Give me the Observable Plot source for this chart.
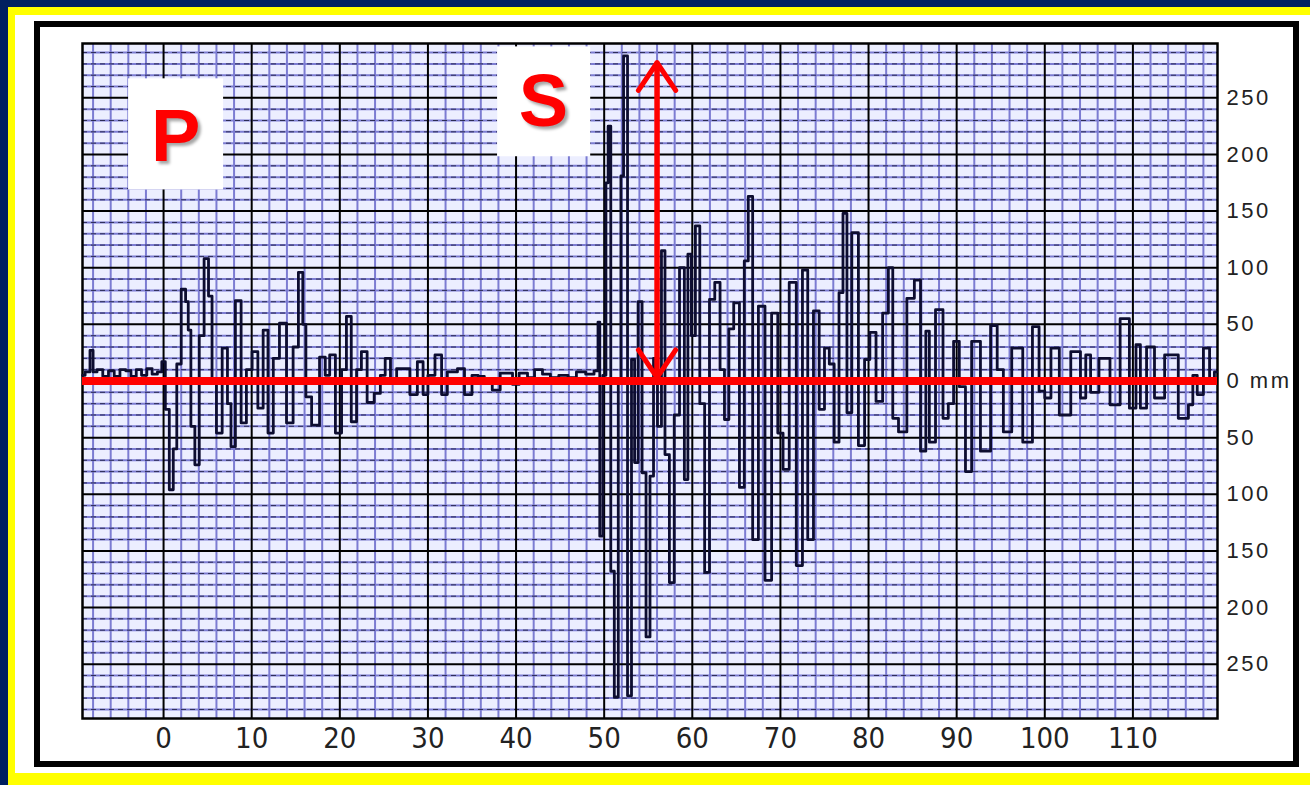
<!DOCTYPE html>
<html><head><meta charset="utf-8">
<script src="https://cdn.jsdelivr.net/npm/d3@7"></script>
<script src="https://cdn.jsdelivr.net/npm/@observablehq/plot@0.6"></script>
<style>
html,body{margin:0;padding:0;width:1310px;height:785px;overflow:hidden;background:#002060;}
#yellow{position:absolute;left:8px;top:7px;width:1302px;height:778px;background:#ffff00;}
#white{position:absolute;left:15px;top:15px;width:1295px;height:758px;background:#ffffff;}
#panel{position:absolute;left:34px;top:21px;width:1253px;height:734px;border:6px solid #000;background:#fff;}
#chart{position:absolute;left:0;top:0;}
</style></head><body>
<div id="yellow"></div><div id="white"></div><div id="panel"></div>
<div id="chart"></div>
<script>
// Seismogram trace: time (s) and amplitude (mm)
const times = [-9.2,-8.6,-8.1,-7.9,-7.2,-6.6,-5.9,-5.3,-4.6,-4.0,-3.4,-2.8,-2.2,-1.6,-1.0,-0.4,0.0,0.4,0.9,1.3,1.7,2.3,2.7,2.9,3.3,3.8,4.3,4.9,5.3,5.7,6.3,7.0,7.5,7.8,8.5,9.1,9.7,10.4,11.0,11.6,12.1,12.8,13.5,14.4,15.0,15.6,16.0,16.3,17.3,18.1,18.6,19.1,19.9,20.5,21.0,21.6,22.2,22.7,23.5,24.3,24.9,25.4,26.1,26.8,27.5,28.4,29.2,29.7,30.3,31.3,31.8,32.6,33.0,33.7,34.6,35.4,36.0,36.8,37.8,38.6,39.4,39.8,40.9,41.7,42.5,43.5,44.3,45.4,46.4,47.3,48.5,49.2,49.4,49.6,50.1,50.3,50.6,50.9,51.4,51.8,52.0,52.4,52.9,53.3,53.6,54.1,54.5,55.0,55.4,55.8,56.3,56.7,57.1,57.7,58.2,58.9,59.3,59.7,60.1,60.6,61.1,61.7,62.2,62.9,63.4,63.9,64.4,65.0,65.7,66.1,66.6,67.1,67.9,68.6,69.4,70.0,70.6,71.4,72.2,72.8,73.4,74.1,74.7,75.3,75.8,76.4,76.9,77.3,77.8,78.4,79.3,79.8,80.5,81.2,82.0,82.5,83.0,83.8,84.9,85.5,86.3,86.7,87.1,88.1,88.8,89.3,90.0,90.6,91.4,92.0,93.4,94.3,94.9,95.7,96.8,98.2,99.0,99.7,100.3,101.1,102.2,103.7,104.4,104.9,105.5,106.8,108.0,109.1,110.1,110.6,111.1,112.0,112.9,114.3,116.0,116.6,117.0,117.6,118.4,119.0,119.5];
const amps = [5,8,27,8,10,4,9,4,10,9,4,10,5,11,6,8,17,-25,-96,-60,15,81,70,45,-40,-74,40,108,75,0,-46,29,-20,-58,71,-37,10,26,-24,45,-46,20,51,-37,30,96,50,-14,-39,21,5,23,-46,10,57,-36,10,26,-19,-11,5,20,0,11,11,-12,17,-12,5,23,-12,8,8,11,-12,5,4,2,-8,7,7,-3,7,3,10,6,3,5,3,8,6,9,52,-137,5,175,225,-168,-279,0,181,287,-278,19,-72,70,-81,-226,-84,20,-40,115,-65,-178,-30,100,-87,112,40,137,-20,-169,72,87,10,-34,46,69,-94,106,163,-140,66,-176,60,-46,-78,87,-163,98,-140,62,-25,29,15,-54,78,148,-28,131,-57,19,43,-18,60,100,-33,-45,73,89,-62,44,-54,63,-33,-20,35,-5,-80,35,-62,49,10,-45,29,-54,48,-9,-15,29,-30,26,-15,23,-10,20,-21,55,-24,32,-24,30,-15,23,-33,-21,5,-12,29,0,8];

// Axis ticks
const xTicks = [0,10,20,30,40,50,60,70,80,90,100,110];
const yTicks = [-250,-200,-150,-100,-50,0,50,100,150,200,250];

// Phase labels (P and S) with their white boxes
const phaseNames = ["P","S"];
const phaseX = [1.36, 43.1];
const phaseY = [215, 246];
const boxX1 = [-3.97, 37.9];
const boxX2 = [6.81, 48.47];
const boxY1 = [168.7, 198];
const boxY2 = [266.8, 295];

// Amplitude arrow (S wave max)
const arrowT = [56.0];
const arrowLow = [3];
const arrowHigh = [281];

const trace = times.map((t, i) => ({t, a: amps[i]}));
const phases = phaseNames.map((n, i) => ({n, x: phaseX[i], y: phaseY[i], x1: boxX1[i], x2: boxX2[i], y1: boxY1[i], y2: boxY2[i]}));
const arrows = [
  {x: arrowT[0], y1: arrowLow[0], y2: arrowHigh[0]},
  {x: arrowT[0], y1: arrowHigh[0], y2: arrowLow[0]}
];

const minorX = d3.range(-8, 120, 2).filter(v => v % 10 !== 0);
const majorX = d3.range(0, 120, 10);
const minorY = d3.range(-290, 300, 10).filter(v => v % 50 !== 0);
const majorY = d3.range(-250, 300, 50);

const chart = Plot.plot({
  width: 1310, height: 785,
  marginLeft: 82, marginRight: 93, marginTop: 43, marginBottom: 67,
  x: {domain: [-9.2, 119.6], axis: null},
  y: {domain: [-298, 298], axis: null},
  style: {background: "transparent", overflow: "visible"},
  marks: [
    Plot.frame({fill: "#eceeff"}),
    Plot.ruleX(minorX, {stroke: "#7c7cd2", strokeWidth: 2}),
    Plot.ruleY(minorY, {stroke: "#7c7cd2", strokeWidth: 2}),
    Plot.ruleY(minorY, {stroke: "#2c2c55", strokeWidth: 1, strokeDasharray: "5,4"}),
    Plot.ruleX(majorX, {stroke: "#000", strokeWidth: 2}),
    Plot.ruleY(majorY, {stroke: "#000", strokeWidth: 2}),
    Plot.frame({stroke: "#000", strokeWidth: 2.5}),
    Plot.rect(phases, {x1: "x1", x2: "x2", y1: "y1", y2: "y2", fill: "#fff"}),
    Plot.line(trace, {x: "t", y: "a", curve: "step", stroke: "#0d0d30", strokeWidth: 2.8}),
    Plot.ruleY([0], {stroke: "#ff0000", strokeWidth: 8}),
    Plot.arrow(arrows, {x1: "x", x2: "x", y1: "y1", y2: "y2", stroke: "#ff0000", strokeWidth: 5, headLength: 10, headAngle: 68}),
    Plot.text(phases, {x: "x", y: "y", text: "n", fill: "#ff0000", fontSize: 74, fontWeight: "bold", fontFamily: "Liberation Sans, Arial, sans-serif"}),
    Plot.axisX(xTicks, {anchor: "bottom", tickSize: 0, tickPadding: 9, fontSize: 29, fill: "#222"}),
    Plot.axisY(yTicks, {anchor: "right", tickSize: 0, tickPadding: 9, fontSize: 22, fill: "#222",
      tickFormat: d => d === 0 ? "0 mm" : String(Math.abs(d))})
  ]
});
document.getElementById("chart").appendChild(chart);
d3.select(chart).selectAll('g[aria-label="text"]')
  .style("filter", "drop-shadow(3px 3px 1.5px rgba(0,0,0,0.35))");
d3.select(chart).selectAll('g[aria-label="x-axis tick label"]')
  .attr("font-family", "'Liberation Sans Narrow', 'DejaVu Sans Condensed', 'Liberation Sans', sans-serif");
d3.select(chart).selectAll('g[aria-label="y-axis tick label"]')
  .attr("font-family", "'Liberation Sans', Arial, sans-serif").attr("letter-spacing", "2.5px");
</script>
</body></html>
